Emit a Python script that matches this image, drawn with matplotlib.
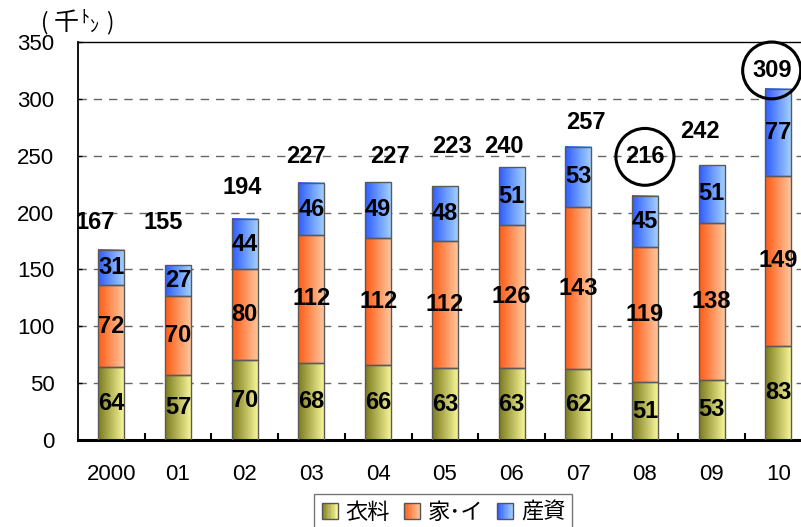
"""Stacked bar chart: 衣料 / 家･イ / 産資 volumes (thousand tons), 2000-2010."""

import matplotlib
matplotlib.use("Agg")
import matplotlib.pyplot as plt
import numpy as np
from matplotlib.colors import LinearSegmentedColormap
from matplotlib.legend_handler import HandlerBase
from matplotlib.patches import Ellipse, Rectangle

plt.rcParams["font.family"] = ["Liberation Sans", "Noto Sans CJK JP", "DejaVu Sans"]

# ---------------------------------------------------------------------------
# Data
# ---------------------------------------------------------------------------
years = ["2000", "01", "02", "03", "04", "05", "06", "07", "08", "09", "10"]
clothing = [64, 57, 70, 68, 66, 63, 63, 62, 51, 53, 83]          # 衣料
household = [72, 70, 80, 112, 112, 112, 126, 143, 119, 138, 149]  # 家･イ
industrial = [31, 27, 44, 46, 49, 48, 51, 53, 45, 51, 77]         # 産資
totals = [167, 155, 194, 227, 227, 223, 240, 257, 216, 242, 309]
circled = ["08", "10"]

series_names = ["衣料", "家･イ", "産資"]

# total label placement (x offset in category units, y in data units)
total_dx = [-0.24, -0.22, -0.04, -0.09, 0.18, 0.10, -0.12, 0.12, 0.0, -0.18, -0.10]
total_y = [191, 191, 222, 249, 249, 258, 258, 279, 249, 271, 325]

# left (dark) -> right (light) gradient per series
GRADS = [
    ("#7a7a1e", "#fbfb9c"),
    ("#ff5a14", "#ffcaa2"),
    ("#2e5cff", "#a6d4ff"),
]


def gradient_bar(ax, x, bottom, height, width, cols):
    cmap = LinearSegmentedColormap.from_list("g", cols)
    grad = np.linspace(0, 1, 64).reshape(1, -1)
    ax.imshow(grad, cmap=cmap, aspect="auto", interpolation="bilinear",
              extent=(x - width / 2, x + width / 2, bottom, bottom + height),
              zorder=2)
    ax.add_patch(Rectangle((x - width / 2, bottom), width, height,
                           fill=False, edgecolor="#5a5a5a", linewidth=1.0,
                           zorder=3))


class GradientHandler(HandlerBase):
    def __init__(self, cols):
        super().__init__()
        self.cols = cols

    def create_artists(self, legend, orig_handle, xdescent, ydescent,
                       width, height, fontsize, trans):
        cmap = LinearSegmentedColormap.from_list("g", self.cols)
        side = height * 0.95
        x0 = -xdescent + (width - side) / 2
        y0 = -ydescent + (height - side) / 2
        n = 12
        arts = []
        for i in range(n):
            arts.append(Rectangle((x0 + side * i / n, y0), side / n + 0.3, side,
                                  facecolor=cmap((i + 0.5) / n),
                                  edgecolor="none", transform=trans))
        arts.append(Rectangle((x0, y0), side, side, fill=False,
                              edgecolor="#555555", linewidth=1.0,
                              transform=trans))
        return arts


# ---------------------------------------------------------------------------
# Plot
# ---------------------------------------------------------------------------
fig = plt.figure(figsize=(8.01, 5.27), dpi=100)
ax = fig.add_axes([78 / 801, 1 - 440 / 527, 733.7 / 801, 398 / 527])

x = np.arange(len(years))
bw = 0.39
stack = [clothing, household, industrial]
bottoms = np.zeros(len(years))
for vals, cols in zip(stack, GRADS):
    for i, v in enumerate(vals):
        gradient_bar(ax, x[i], bottoms[i], v, bw, cols)
        ax.text(x[i], bottoms[i] + v / 2, str(v), ha="center", va="center",
                fontsize=17, fontweight="bold", zorder=4)
    bottoms += np.asarray(vals)

for i, t in enumerate(totals):
    ax.text(x[i] + total_dx[i], total_y[i], str(t), ha="center", va="center",
            fontsize=17, fontweight="bold", zorder=4)
    if years[i] in circled:
        ax.add_patch(Ellipse((x[i] + total_dx[i], total_y[i]), 0.87, 50,
                             fill=False, edgecolor="black", linewidth=2.2,
                             zorder=5, clip_on=False))

ax.set_xlim(-0.5, len(years) - 0.5)
ax.set_ylim(0, 350)
ax.set_yticks(np.arange(0, 351, 50))
ax.set_xticks(x)
ax.set_xticklabels(years)
ax.set_xticks(np.arange(0.5, len(years) - 0.5, 1), minor=True)
ax.tick_params(axis="x", which="major", length=0, pad=17, labelsize=16)
ax.tick_params(axis="x", which="minor", direction="in", length=5, width=1.5)
ax.tick_params(axis="y", direction="in", length=3, width=1, pad=17, labelsize=16)

for yv in range(50, 301, 50):
    ax.axhline(yv, color="#666666", linewidth=1, linestyle=(0, (6, 5)), zorder=1)

ax.spines["bottom"].set_linewidth(2.2)
ax.spines["left"].set_linewidth(1.3)
ax.spines["top"].set_linewidth(1.0)

# unit label (千ﾄﾝ)
cjk = ["Noto Sans CJK JP"]
fig.text(41 / 801, 1 - 23 / 527, "(", fontsize=16, va="center", ha="left", family=cjk)
fig.text(54 / 801, 1 - 23 / 527, "千", fontsize=18, va="center", ha="left", family=cjk)
fig.text(80 / 801, 1 - 18 / 527, "ﾄ", fontsize=13, va="center", ha="left", family=cjk)
fig.text(90 / 801, 1 - 27 / 527, "ﾝ", fontsize=13, va="center", ha="left", family=cjk)
fig.text(106 / 801, 1 - 23 / 527, ")", fontsize=16, va="center", ha="left", family=cjk)

handles = [Rectangle((0, 0), 1, 1) for _ in series_names]
leg = fig.legend(handles, series_names, loc="upper center",
                 bbox_to_anchor=(443 / 801, 1 - 494 / 527), ncol=3,
                 frameon=True, fancybox=False, edgecolor="#555555",
                 prop={"family": cjk, "size": 16},
                 handler_map={h: GradientHandler(c) for h, c in zip(handles, GRADS)},
                 handlelength=0.8, handleheight=0.8, handletextpad=0.3,
                 columnspacing=0.6, borderpad=0.3, borderaxespad=0)
leg.get_frame().set_linewidth(1.0)

fig.savefig("out.png", dpi=100)
plt.close(fig)
